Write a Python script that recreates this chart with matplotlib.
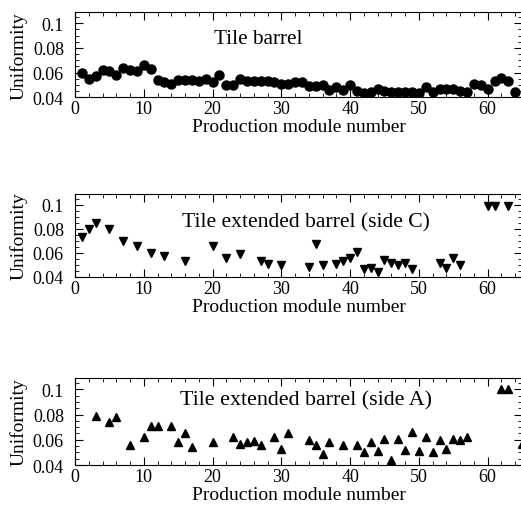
import matplotlib.pyplot as plt
from matplotlib.ticker import MultipleLocator

plt.rcParams['font.family'] = ['Liberation Serif', 'DejaVu Serif']

# Tile barrel
barrel_x = list(range(1, 65))
barrel_y = [0.0593, 0.0547, 0.057, 0.062, 0.061, 0.058, 0.0637, 0.062, 0.061, 0.066,
            0.063, 0.054, 0.052, 0.051, 0.054, 0.054, 0.054, 0.0535, 0.055, 0.052,
            0.058, 0.050, 0.050, 0.0545, 0.0535, 0.0535, 0.053, 0.0535, 0.0525, 0.051,
            0.051, 0.0525, 0.0525, 0.049, 0.049, 0.050, 0.0455, 0.048, 0.046, 0.050,
            0.045, 0.0435, 0.0445, 0.047, 0.045, 0.044, 0.0445, 0.044, 0.044, 0.0435,
            0.0485, 0.044, 0.047, 0.0465, 0.0465, 0.045, 0.044, 0.051, 0.050, 0.047,
            0.0535, 0.0555, 0.0535, 0.0445]

# Extended barrel side C
ebc_x = [1, 2, 3, 5, 7, 9, 11, 13, 16, 20, 22, 24, 27, 28, 30, 34, 35, 36, 38, 39,
         40, 41, 42, 43, 44, 45, 46, 47, 48, 49, 53, 54, 55, 56, 60, 61, 63]
ebc_y = [0.0728, 0.0796, 0.085, 0.0796, 0.070, 0.0654, 0.060, 0.0572, 0.053, 0.066,
         0.056, 0.059, 0.053, 0.051, 0.050, 0.048, 0.0673, 0.050, 0.051, 0.053,
         0.0556, 0.061, 0.0463, 0.047, 0.044, 0.054, 0.0518, 0.0496, 0.0515, 0.0463,
         0.0518, 0.0474, 0.056, 0.050, 0.099, 0.099, 0.099]

# Extended barrel side A
eba_x = [3, 5, 6, 8, 10, 11, 12, 14, 15, 16, 17, 20, 23, 24, 25, 26, 27, 29, 30, 31,
         34, 35, 36, 37, 39, 41, 42, 43, 44, 45, 46, 47, 48, 49, 50, 51, 52, 53, 54,
         55, 56, 57, 62, 63, 65]
eba_y = [0.079, 0.074, 0.078, 0.056, 0.062, 0.071, 0.071, 0.071, 0.058, 0.065,
         0.054, 0.058, 0.062, 0.057, 0.058, 0.059, 0.056, 0.062, 0.053, 0.065,
         0.060, 0.056, 0.049, 0.058, 0.056, 0.056, 0.050, 0.058, 0.051, 0.061,
         0.044, 0.061, 0.052, 0.066, 0.051, 0.062, 0.050, 0.060, 0.053, 0.061,
         0.060, 0.062, 0.100, 0.100, 0.057]

panels = [
    (barrel_x, barrel_y, 'o', 6.5, 'Tile barrel', (0.31, 0.643), 15.3),
    (ebc_x, ebc_y, 'v', 5.5, 'Tile extended barrel (side C)', (0.239, 0.61), 15.6),
    (eba_x, eba_y, '^', 5.5, 'Tile extended barrel (side A)', (0.235, 0.70), 15.8),
]

fig = plt.figure(figsize=(5.21, 5.06), dpi=100)
bottoms = [0.806, 0.451, 0.079]
heights = [0.168, 0.164, 0.172]

for (x, y, m, ms, label, tpos, fs), b, h in zip(panels, bottoms, heights):
    ax = fig.add_axes([0.144, b, 0.858, h])
    ax.plot(x, y, linestyle='none', marker=m, color='black', markersize=ms)
    ax.set_xlim(0, 65)
    ax.set_ylim(0.04, 0.109)
    ax.xaxis.set_major_locator(MultipleLocator(10))
    ax.xaxis.set_minor_locator(MultipleLocator(2))
    ax.yaxis.set_major_locator(MultipleLocator(0.02))
    ax.yaxis.set_minor_locator(MultipleLocator(0.005))
    ax.tick_params(which='both', direction='in', top=True, right=True, labelsize=13)
    ax.tick_params(which='major', length=6)
    ax.tick_params(which='minor', length=3)
    ax.tick_params(axis='y', which='major', pad=8)
    ax.tick_params(axis='x', which='major', pad=2)
    ax.set_yticks([0.04, 0.06, 0.08, 0.1])
    ax.set_yticklabels(['0.04', '0.06', '0.08', '0.1'])
    ax.set_ylabel('Uniformity', fontsize=14, labelpad=4)
    ax.set_xlabel('Production module number', fontsize=14, labelpad=1)
    ax.text(tpos[0], tpos[1], label, transform=ax.transAxes, ha='left', va='baseline',
            fontsize=fs)

fig.savefig('out.png', dpi=100)
